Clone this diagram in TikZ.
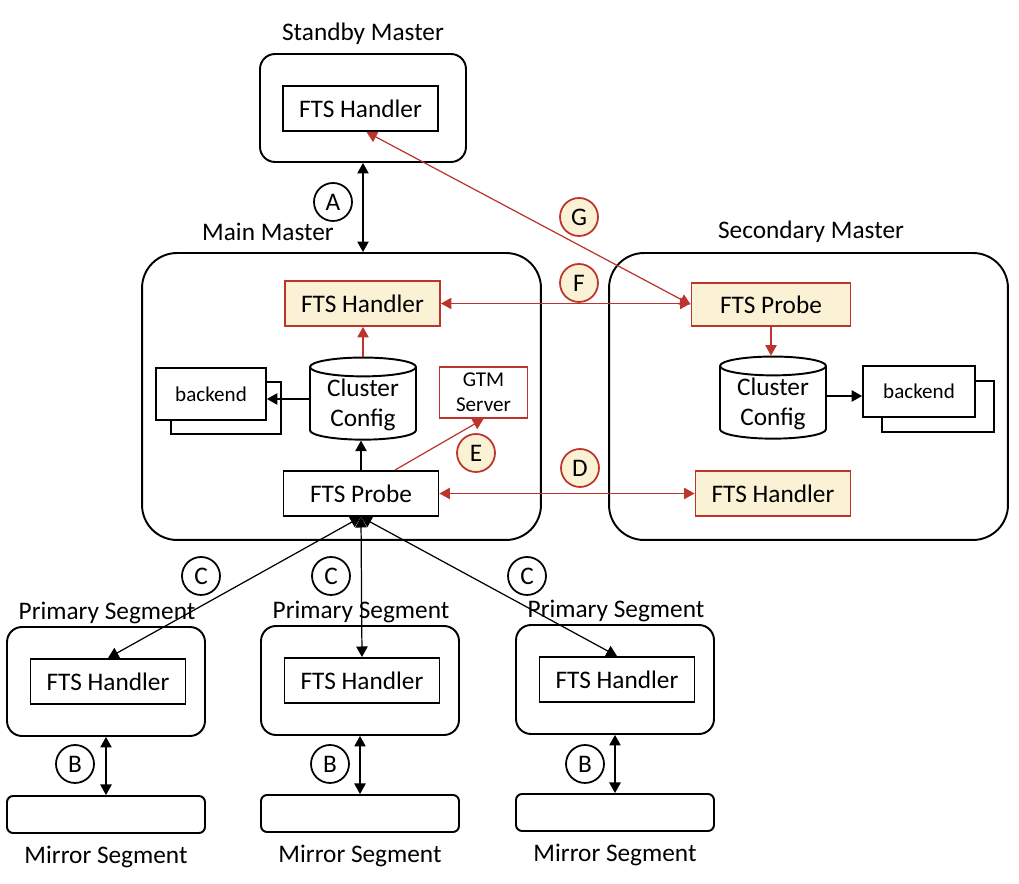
\documentclass[tikz,border=0pt]{standalone}
\usepackage{fontspec}
\setmainfont{Carlito}
\usetikzlibrary{calc}
\usetikzlibrary{shapes.geometric}
\usetikzlibrary{arrows.meta}
\definecolor{ftsred}{RGB}{188,52,44}
\definecolor{ftsfill}{RGB}{251,242,214}
\tikzset{
  every node/.style={font=\fontsize{14.4}{17}\selectfont},
  frame/.style={draw, line width=1.1pt, rounded corners=0.3cm},
  bigframe/.style={frame, rounded corners=0.7cm, minimum width=7.98cm, minimum height=5.74cm},
  segframe/.style={frame, minimum width=3.96cm, minimum height=2.18cm},
  mirror/.style={frame, rounded corners=0.12cm, minimum width=3.96cm, minimum height=0.74cm},
  unit/.style={draw, line width=1.1pt, fill=white, minimum width=3.1cm, minimum height=0.9cm},
  redunit/.style={unit, draw=ftsred, fill=ftsfill},
  small/.style={draw, line width=1pt, fill=white, align=center, font=\fontsize{12}{14}\selectfont},
  db/.style={cylinder, shape border rotate=90, aspect=0.25, draw, line width=1.1pt, fill=white,
    minimum width=2.12cm, minimum height=1.44cm, align=center, inner sep=1pt},
  tag/.style={circle, draw, line width=1pt, fill=white, minimum size=0.76cm, inner sep=0pt},
  redtag/.style={tag, draw=ftsred, fill=ftsfill},
  oneway/.style={line width=0.7pt, -{Triangle[length=6pt,width=6.5pt]}},
  twoway/.style={line width=0.7pt, {Triangle[length=6pt,width=6.5pt]}-{Triangle[length=6pt,width=6.5pt]}}
}
\begin{document}
\begin{tikzpicture}[x=0.02cm, y=-0.02cm]
    \useasboundingbox (0,0) rectangle (1019,884);

    \node (sblabel) at (363,34) {Standby Master};
    \node[frame, minimum width=4.12cm, minimum height=2.16cm] (sbbox) at (363,108) {};
    \node[unit] (sbhandler) at (360.5,108.5) {FTS Handler};

    \node (mainlabel) at (268,232) {Main Master};
    \node[bigframe] (mainbox) at (341.5,396.5) {};
    \node[redunit] (mhandler) at (362.5,303.5) {FTS Handler};
    \node[db] (mcyl) at (363,405) {Cluster\\Config};
    \node[small, minimum width=2.2cm, minimum height=1.04cm] (mback2) at (226,408) {};
    \node[small, minimum width=2.2cm, minimum height=1.04cm] (mbackend) at (211,394) {backend};
    \node[small, draw=ftsred, minimum width=1.76cm, minimum height=1.02cm, inner sep=1pt] (gtm) at (483.5,392.5) {GTM\\Server};
    \node[unit] (mprobe) at (361,493.5) {FTS Probe};

    \node (seclabel) at (811,232) {Secondary Master};
    \node[bigframe] (secbox) at (808.5,396.5) {};
    \node[redunit, minimum width=3.18cm, minimum height=0.86cm] (secprobe) at (771,304.5) {FTS Probe};
    \node[db] (seccyl) at (773,404) {Cluster\\Config};
    \node[small, minimum width=2.24cm, minimum height=1.02cm] (secback2) at (938,406.5) {};
    \node[small, minimum width=2.24cm, minimum height=1.02cm] (secbackend) at (919,391.5) {backend};
    \node[redunit] (sechandler) at (773,493.5) {FTS Handler};

    \foreach \i/\x/\y in {1/106/681.5, 2/360/680.5, 3/615/679.5}{
        \node (plabel\i) at (\x+1,\y-68.5) {Primary Segment};
        \node[segframe] (prim\i) at (\x,\y) {};
        \node[unit] (phandler\i) at (\x+2,\y) {FTS Handler};
        \node[mirror] (mir\i) at (\x,\y+133) {};
        \node (mlabel\i) at (\x,\y+175.5) {Mirror Segment};
        \draw[twoway] (prim\i.south) -- (mir\i.north);
        \draw[twoway] (mprobe.south) -- (phandler\i.north);
    }

    \coordinate (mcylout) at ($(mcyl.west)+(0,-6)$);
    \coordinate (seccylout) at ($(seccyl.east)+(0,-8)$);

    \draw[twoway] (sbbox.south) -- (sbbox.south |- mainbox.north);
    \draw[oneway] (mprobe.north) -- (mprobe.north |- mcyl.south);
    \draw[oneway] (mcylout) -- (mcylout -| mbackend.east);
    \draw[oneway, ftsred] (mcyl.north) -- (mcyl.north |- mhandler.south);
    \draw[oneway, ftsred] ($(mprobe.north)+(34,0)$) -- (gtm.south);
    \draw[oneway, ftsred] (secprobe.south) -- (secprobe.south |- seccyl.north);
    \draw[oneway] (seccylout) -- (seccylout -| secbackend.west);
    \draw[twoway, ftsred] ($(sbhandler.south)+(6,0)$) -- (secprobe.west);
    \draw[twoway, ftsred] (mhandler.east) -- (mhandler.east -| secprobe.west);
    \draw[twoway, ftsred] (mprobe.east) -- (sechandler.west);

    \node[tag] (tagA) at (333,202) {A};
    \node[redtag] (tagG) at (579,217) {G};
    \node[redtag] (tagF) at (579,283) {F};
    \node[redtag] (tagE) at (476,453) {E};
    \node[redtag] (tagD) at (580,468) {D};
    \node[tag] (tagC1) at (201,576) {C};
    \node[tag] (tagC2) at (331,576) {C};
    \node[tag] (tagC3) at (527,576) {C};
    \node[tag] (tagB1) at (75,764) {B};
    \node[tag] (tagB2) at (330,764) {B};
    \node[tag] (tagB3) at (585,764) {B};
\end{tikzpicture}
\end{document}
